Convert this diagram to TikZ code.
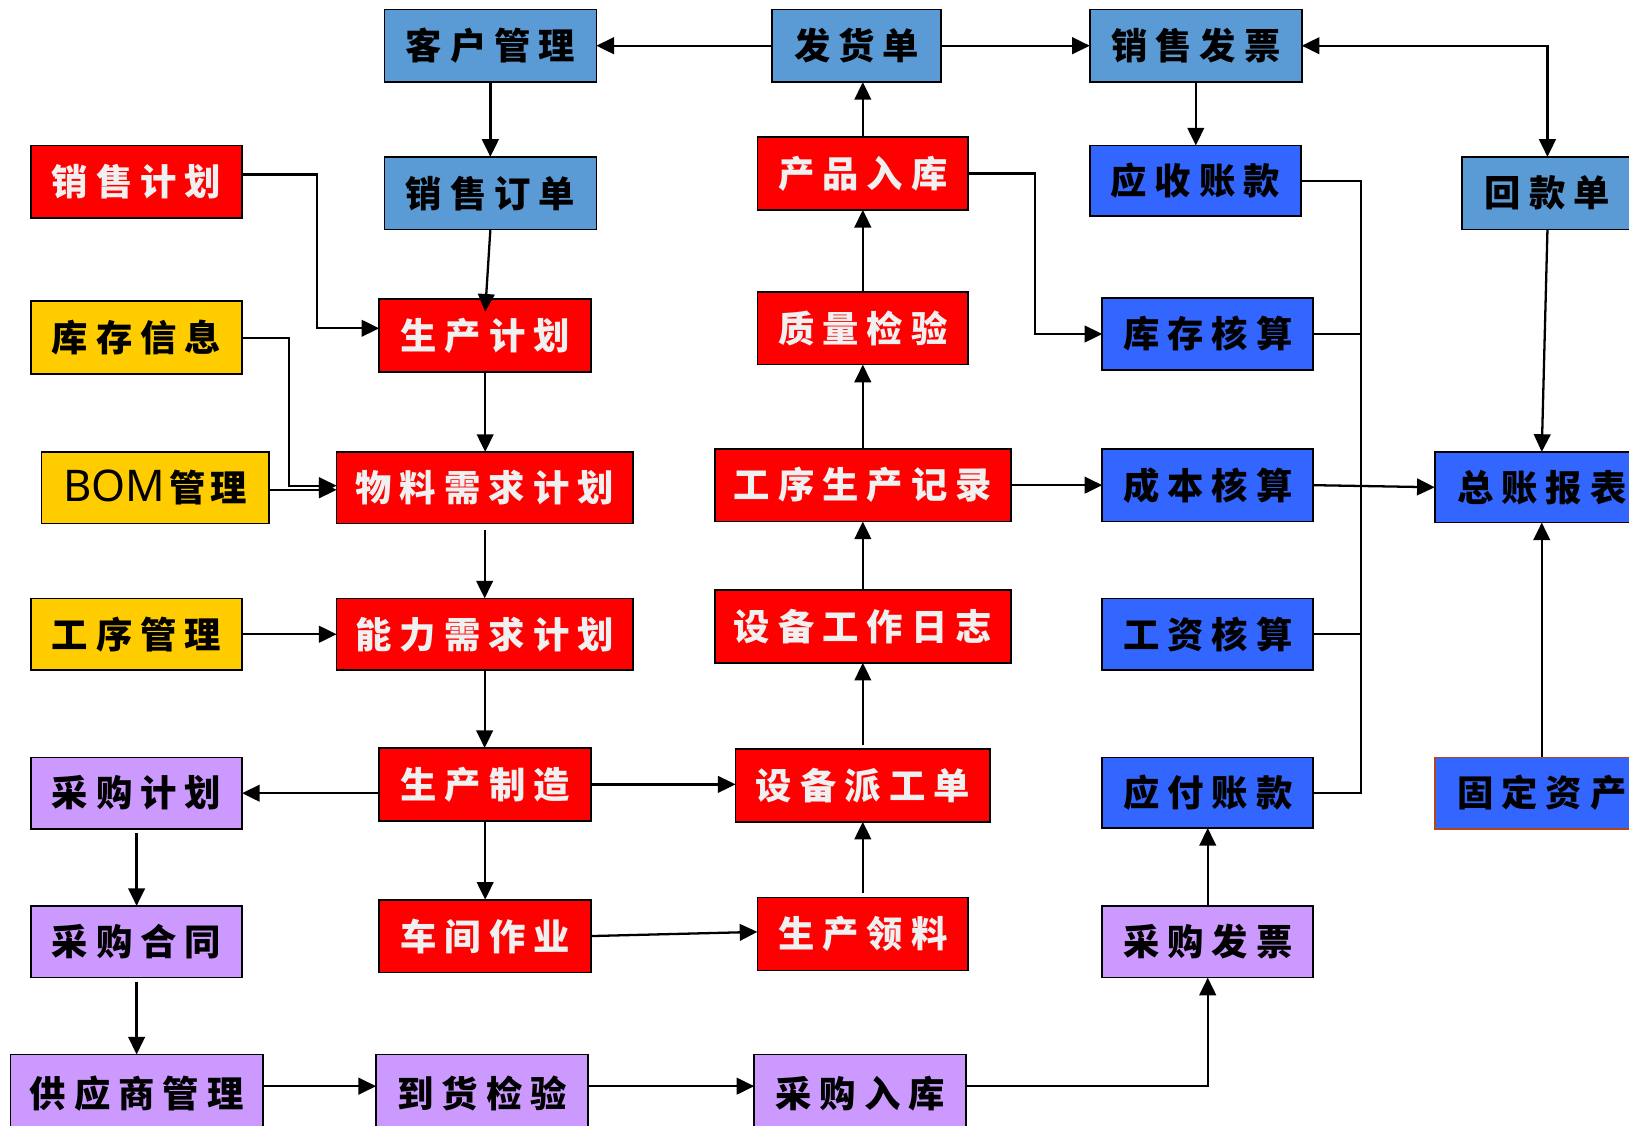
\documentclass[tikz,border=0pt]{standalone}
\usepackage{fontspec}
\newfontfamily\cjk{Noto Sans CJK SC}
\newfontfamily\lat{Noto Sans}
\usetikzlibrary{arrows.meta}
\definecolor{lblue}{HTML}{5B9BD5}
\definecolor{dblue}{HTML}{3366FF}
\definecolor{rred}{HTML}{FF0000}
\definecolor{yel}{HTML}{FFCC00}
\definecolor{purp}{HTML}{CC99FF}
\definecolor{brn}{HTML}{B5451B}
\definecolor{wtxt}{HTML}{F0F0F0}
\def\g{\hskip0.22em\relax}
\newcommand\bx[7]{\node[#6, minimum width={(#4-#2)*1pt}, minimum height={(#5-#3)*1pt}] (#1) at ({(#2+#4)/2},{(#3+#5)/2}) {#7};}
\tikzset{
  box/.style={draw=black, line width=1.6pt, inner sep=0pt, outer sep=0pt,
    font=\cjk\bfseries\fontsize{35}{38}\selectfont},
  lb/.style={box, fill=lblue, text=black},
  db/.style={box, fill=dblue, text=black},
  rd/.style={box, fill=rred, text=wtxt},
  yw/.style={box, fill=yel, text=black},
  pp/.style={box, fill=purp, text=black},
  arr/.style={-{Triangle[length=17pt,width=16pt]}, line width=2.2pt},
  arrb/.style={{Triangle[length=17pt,width=16pt]}-{Triangle[length=17pt,width=16pt]}, line width=2.2pt},
  ln/.style={line width=2.2pt},
}
\begin{document}
\begin{tikzpicture}[x=1pt,y=-1pt]
\useasboundingbox (0,0) rectangle (1568,1083);
\clip (0,0) rectangle (1568,1083);
\fill[white] (0,0) rectangle (1568,1083);
% row 1
\bx{kehu}{370}{9}{574}{79}{lb}{客\g 户\g 管\g 理}
\bx{fahuo}{743}{9}{906}{79}{lb}{发\g 货\g 单}
\bx{xsfp}{1049}{9}{1253}{79}{lb}{销\g 售\g 发\g 票}
% row 2
\bx{xsjh}{30}{140}{233}{210}{rd}{销\g 售\g 计\g 划}
\bx{xsdd}{370}{151}{574}{221}{lb}{销\g 售\g 订\g 单}
\bx{cprk}{729}{132}{932}{202}{rd}{产\g 品\g 入\g 库}
\bx{yszk}{1049}{140}{1252}{208}{db}{应\g 收\g 账\g 款}
\bx{huikuan}{1407}{151}{1572}{221}{lb}{回\g 款\g 单}
% row 3
\bx{kcxx}{30}{290}{233}{360}{yw}{库\g 存\g 信\g 息}
\bx{scjh}{365}{288}{569}{358}{rd}{生\g 产\g 计\g 划}
\bx{zljy}{729}{281}{932}{351}{rd}{质\g 量\g 检\g 验}
\bx{kchs}{1061}{287}{1264}{356}{db}{库\g 存\g 核\g 算}
% row 4
\bx{bom}{40}{435}{259}{504}{yw}{{\lat\mdseries\fontsize{42}{44}\selectfont BOM}\hskip4pt 管\hskip5pt 理}
\bx{wlxq}{324}{435}{609}{504}{rd}{物\g 料\g 需\g 求\g 计\g 划}
\bx{gxsc}{688}{432}{973}{502}{rd}{工\g 序\g 生\g 产\g 记\g 录}
\bx{cbhs}{1061}{432}{1264}{502}{db}{成\g 本\g 核\g 算}
\bx{zzbb}{1381}{435}{1587}{503}{db}{总\g 账\g 报\g 表}
% row 5
\bx{gxgl}{30}{576}{233}{645}{yw}{工\g 序\g 管\g 理}
\bx{nlxq}{324}{576}{609}{645}{rd}{能\g 力\g 需\g 求\g 计\g 划}
\bx{sbrz}{688}{568}{973}{638}{rd}{设\g 备\g 工\g 作\g 日\g 志}
\bx{gzhs}{1061}{576}{1264}{645}{db}{工\g 资\g 核\g 算}
% row 6
\bx{cgjh}{30}{729}{233}{798}{pp}{采\g 购\g 计\g 划}
\bx{sczz}{365}{720}{569}{790}{rd}{生\g 产\g 制\g 造}
\bx{sbpg}{708}{721}{953}{791}{rd}{设\g 备\g 派\g 工\g 单}
\bx{yfzk}{1061}{729}{1264}{797}{db}{应\g 付\g 账\g 款}
\bx{gdzc}{1381}{729}{1587}{798}{db,draw=brn}{固\g 定\g 资\g 产}
% row 7
\bx{cght}{30}{872}{233}{941}{pp}{采\g 购\g 合\g 同}
\bx{cjzy}{365}{866}{569}{936}{rd}{车\g 间\g 作\g 业}
\bx{sclq}{729}{864}{932}{934}{rd}{生\g 产\g 领\g 料}
\bx{cgfp}{1061}{872}{1264}{941}{pp}{采\g 购\g 发\g 票}
% row 8
\bx{gys}{10}{1015}{253}{1090}{pp}{供\g 应\g 商\g 管\g 理}
\bx{dhjy}{362}{1015}{566}{1090}{pp}{到\g 货\g 检\g 验}
\bx{cgrk}{726}{1015}{930}{1090}{pp}{采\g 购\g 入\g 库}
% connectors
\draw[arr] (fahuo.west) -- (kehu.east);
\draw[arr] (fahuo.east) -- (xsfp.west);
\draw[arrb] (xsfp.east) -| (huikuan.north);
\draw[arr] (kehu.south) -- (xsdd.north);
\draw[arr] (xsfp.south) -- (xsfp.south |- yszk.north);
\draw[arr] (cprk.north) -- (cprk.north |- fahuo.south);
\draw[arr] ([yshift=7pt]xsjh.east) -- ++(72,0) |- ([yshift=7pt]scjh.west);
\draw[arr] (xsdd.south) -- ([yshift=-12pt]scjh.north);
\draw[arr] (cprk.east) -- ++(64,0) |- (kchs.west);
\draw[arr] (huikuan.south) -- (zzbb.north);
\draw[arr] (kcxx.east) -- ++(45,0) |- ([yshift=2pt]wlxq.west);
\draw[arr] ([yshift=-2pt]bom.east) -- ([yshift=-2pt]wlxq.west);
\draw[arr] (scjh.south) -- (scjh.south |- wlxq.north);
\draw[arr] (zljy.north) -- (cprk.south);
\draw[arr] (gxsc.north) -- (gxsc.north |- zljy.south);
\draw[arr] (gxsc.east) -- (gxsc.east -| cbhs.west);
\draw[arr] (cbhs.east) -- (zzbb.west);
\coordinate (bus) at ([xshift=58pt]yszk.east);
\draw[ln] (yszk.east) -- (bus) -- (bus |- yfzk.east) -- (yfzk.east);
\draw[ln] (kchs.east) -- (kchs.east -| bus);
\draw[ln] (gzhs.east) -- (gzhs.east -| bus);
\draw[arr, shorten <=6pt] (wlxq.south) -- (wlxq.south |- nlxq.north);
\draw[arr] (gxgl.east) -- (nlxq.west);
\draw[arr] (sbrz.north) -- (sbrz.north |- gxsc.south);
\draw[arr] (nlxq.south) -- (nlxq.south |- sczz.north);
\draw[arr] (sczz.west |- cgjh.east) -- (cgjh.east);
\draw[arr] (sczz.east) -- (sczz.east -| sbpg.west);
\draw[arr, shorten <=4pt] (sbpg.north) -- (sbpg.north |- sbrz.south);
\draw[arr] (sczz.south) -- (cjzy.north);
\draw[arr] (cjzy.east) -- ([yshift=2pt]sclq.west);
\draw[arr, shorten <=4pt] (sclq.north) -- (sclq.north |- sbpg.south);
\draw[arr, shorten <=4pt] (cgjh.south) -- (cght.north);
\draw[arr, shorten <=4pt] (cght.south) -- (cght.south |- gys.north);
\draw[arr] ([yshift=7pt]gys.east) -- ([yshift=7pt]dhjy.west);
\draw[arr] ([yshift=7pt]dhjy.east) -- ([yshift=7pt]cgrk.west);
\draw[arr] ([yshift=7pt]cgrk.east) -| (cgfp.south);
\draw[arr] (cgfp.north) -- (yfzk.south);
\draw[arr] (gdzc.north) -- (zzbb.south);
\end{tikzpicture}
\end{document}
